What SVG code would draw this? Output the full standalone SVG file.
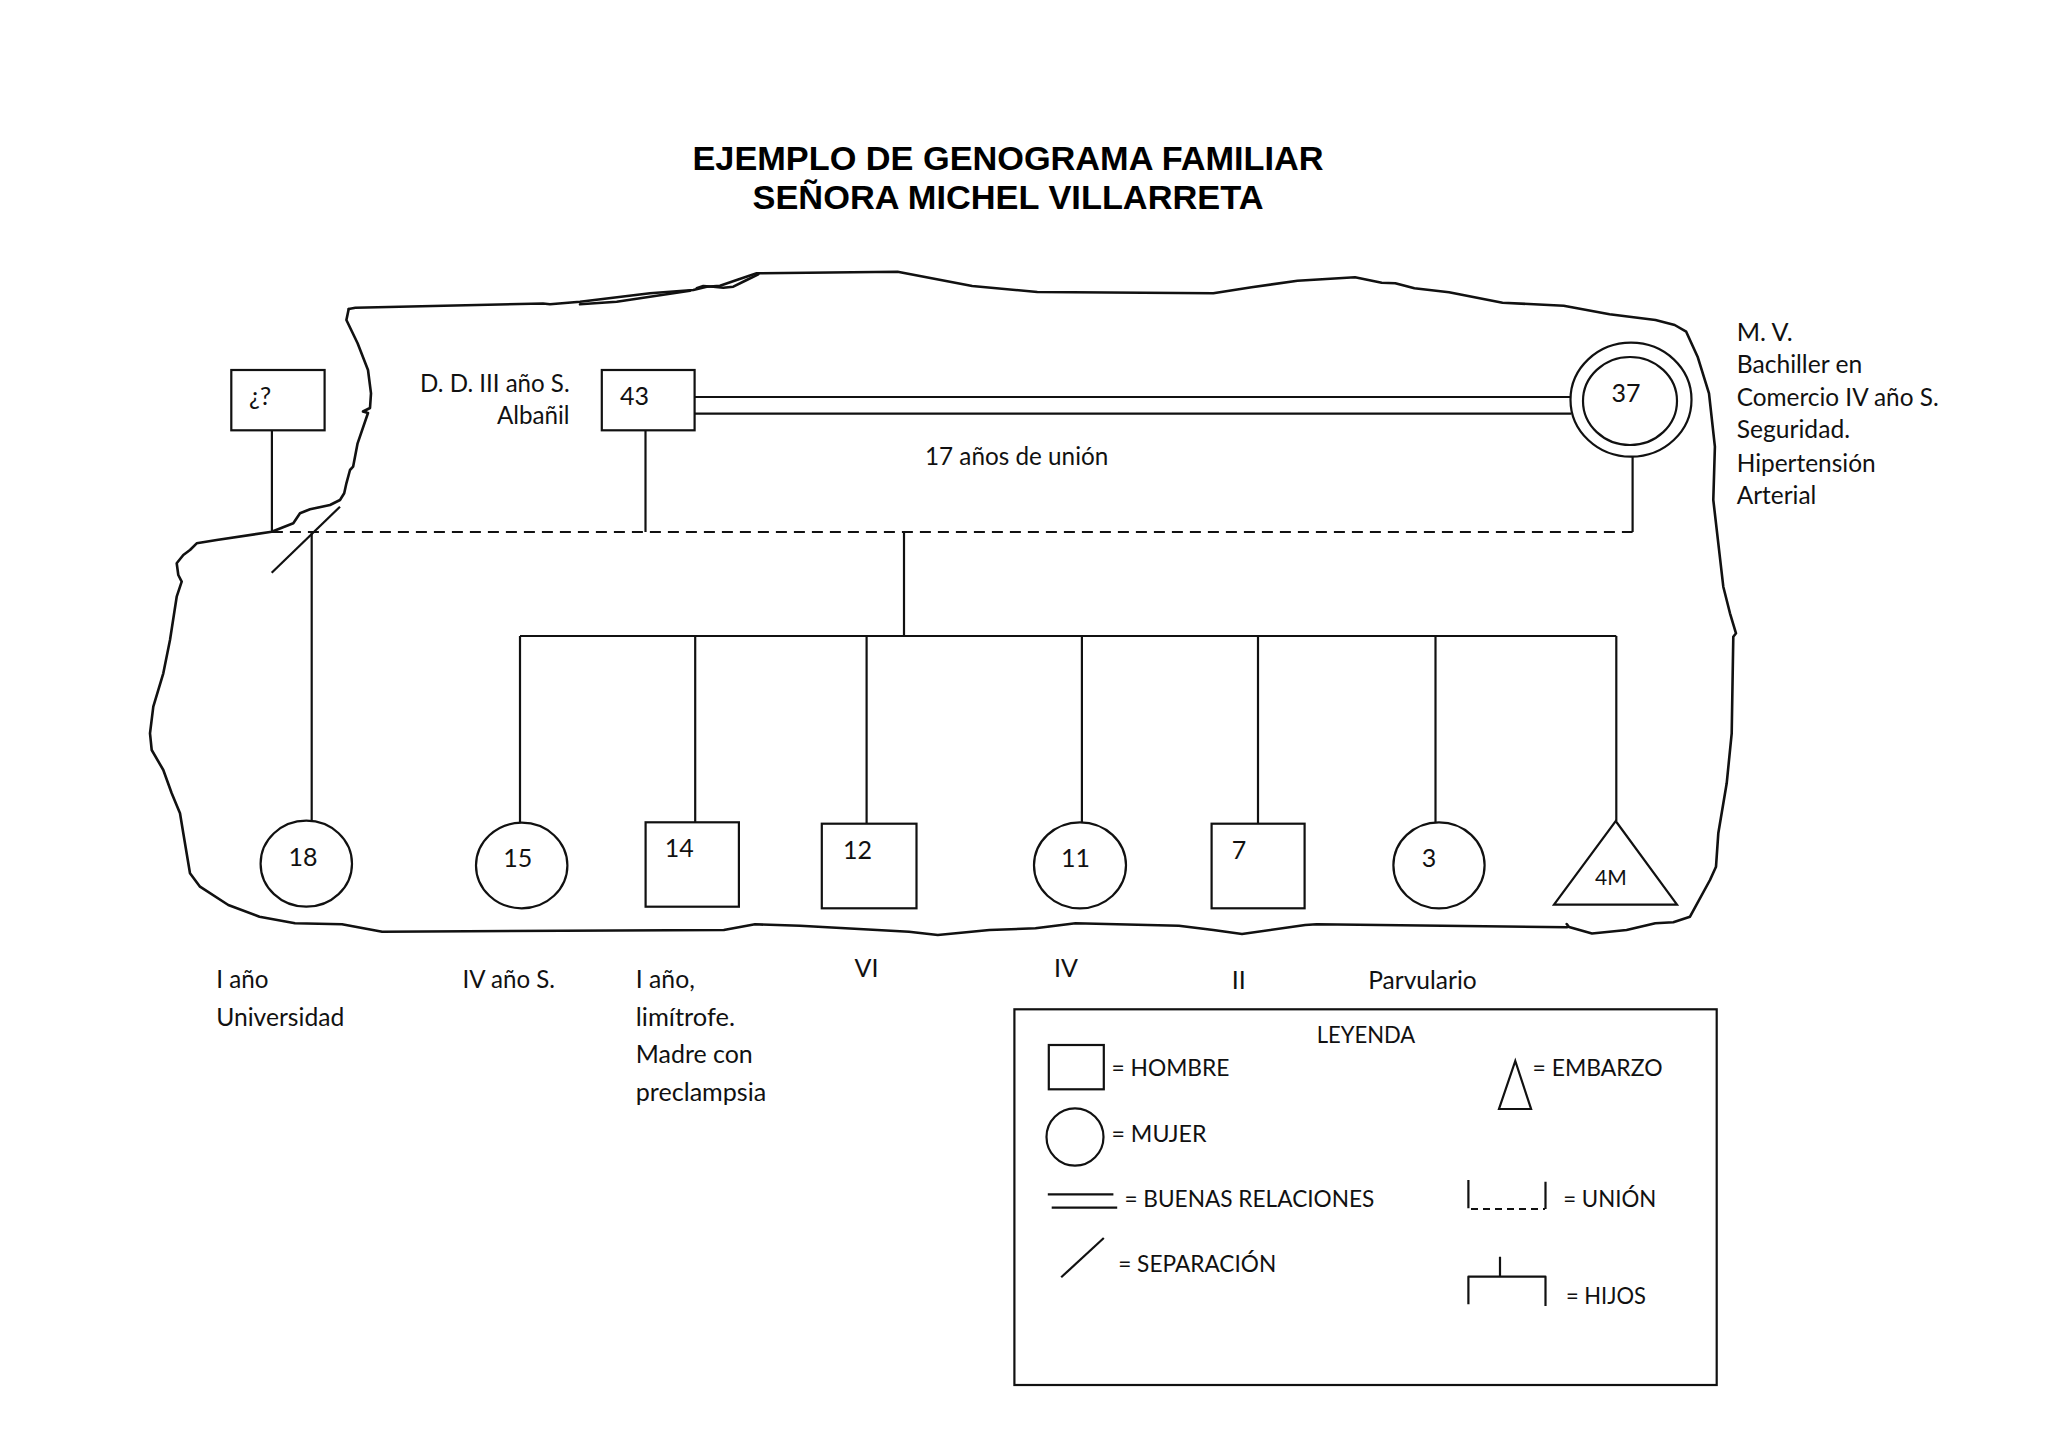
<svg xmlns="http://www.w3.org/2000/svg" width="2048" height="1448" viewBox="0 0 2048 1448">
<style>
.ln{fill:none;stroke:#111;stroke-width:2.2;stroke-linejoin:round;stroke-linecap:butt}
.sh{fill:#fff;stroke:#111;stroke-width:2.2}
.out{fill:none;stroke:#111;stroke-width:2.6;stroke-linejoin:round;stroke-linecap:round}
.t{font-family:Lato,"Liberation Sans",sans-serif;font-size:25px;fill:#111}
.lg{font-size:23px}
.sm{font-size:21px}
.ttl{font-family:"Liberation Sans",Arial,sans-serif;font-weight:bold;font-size:33px;fill:#000;text-anchor:middle}
.end{text-anchor:end}
</style>
<rect width="2048" height="1448" fill="#fff"/>
<text class="ttl" x="1008" y="170" textLength="631" lengthAdjust="spacingAndGlyphs">EJEMPLO DE GENOGRAMA FAMILIAR</text>
<text class="ttl" x="1008" y="208.5" textLength="511" lengthAdjust="spacingAndGlyphs">SEÑORA MICHEL VILLARRETA</text>

<g id="outline">
<path class="out" d="M348.7,309 L355.4,307.7 L543,303.5 L550,304.3 L580,301.7 L650,293.3 L693.3,290 L706.7,286.7 L720,285.7 L736.7,280 L756.7,273.3 L897.6,271.7 L972.2,286 L1037.3,292 L1213.3,293.3 L1251.6,287.3 L1297.5,280.7 L1355,277.3 L1381.7,282.7 L1395.3,283.3 L1414.4,288.3 L1449,292.3 L1502.5,302.7 L1563.7,305.7 L1609.6,314.3 L1655.5,320 L1674.7,325 L1686.2,331.7 L1697.6,356.7 L1709,393.3 L1714.9,446.7 L1713.3,500 L1723.3,586.7 L1730,613.3 L1736,633.3 L1733.3,636.7 L1731.7,733.3 L1726.7,783.3 L1718.3,833.3 L1716,866.7 L1710,880 L1690,916.7 L1673.3,922.3 L1655.3,923.3 L1626.6,930 L1592,933.5 L1569,927 L1566.7,924"/>
<path class="out" d="M1567,927.3 L1316.6,924.3 L1305.2,925 L1242,934 L1213.3,930 L1178.9,925.7 L1075.5,923.3 L1035.4,928.3 L989.4,930 L937.8,935 L909,931.7 L800,925.7 L755,924.3 L723.8,930 L382.2,931.7 L342,924.3 L295,923.3 L259.5,916.7 L228.3,905 L200,886.7 L190,873.3 L183.3,833.3 L180,813.3 L171.7,793.3 L163.3,770 L151.7,750 L150,733.3 L153.3,706.7 L163.3,673.3 L170,640 L176.7,596.7 L181.7,581.7 L178.3,575 L176.7,563.3 L183.3,555 L190,550 L196.7,543.3 L216.7,540 L271.7,531.7 L293.3,523.3 L300,513.3 L310,509.3 L330,505 L340,500 L344.2,493.3 L346.4,483.3 L350,470 L353.1,466.7 L357.6,443.3 L368,413 L363,411.5 L370,408 L371,393.3 L368,370 L357.6,343.3 L346.4,320 L348.7,309"/>
<path class="out" d="M580,304.3 L616.7,301.7 L690,290.7 M696.7,288.3 L703.3,286 L713.3,286.7 L723.3,287.7 L733.3,286.7 L746.7,280 L758.3,274.3"/>
</g>

<g id="connectors">
<line class="ln" x1="271.9" y1="430.3" x2="271.9" y2="532"/>
<line class="ln" x1="645.5" y1="430.3" x2="645.5" y2="532"/>
<line class="ln" x1="1632.6" y1="456.7" x2="1632.6" y2="532"/>
<line class="ln" x1="271.9" y1="532" x2="1632.6" y2="532" stroke-dasharray="11 7"/>
<line class="ln" x1="694.6" y1="397" x2="1571.4" y2="397"/>
<line class="ln" x1="694.6" y1="413.7" x2="1571.4" y2="413.7"/>
<line class="ln" x1="311.7" y1="532" x2="311.7" y2="820.7"/>
<line class="ln" x1="271.7" y1="572.7" x2="340" y2="506.7"/>
<line class="ln" x1="904" y1="532" x2="904" y2="636"/>
<line class="ln" x1="520" y1="636" x2="1616.3" y2="636"/>
<line class="ln" x1="520" y1="636" x2="520" y2="822.7"/>
<line class="ln" x1="695.2" y1="636" x2="695.2" y2="822.3"/>
<line class="ln" x1="866.6" y1="636" x2="866.6" y2="823.7"/>
<line class="ln" x1="1081.9" y1="636" x2="1081.9" y2="822.3"/>
<line class="ln" x1="1258" y1="636" x2="1258" y2="823.7"/>
<line class="ln" x1="1435.5" y1="636" x2="1435.5" y2="822.3"/>
<line class="ln" x1="1616.3" y1="636" x2="1616.3" y2="821"/>
</g>

<g id="node-unknown"><rect class="sh" x="231.3" y="370" width="93.3" height="60.3"/><text class="t" x="249" y="405">¿?</text></g>
<g id="node-43"><rect class="sh" x="601.8" y="370" width="92.8" height="60.3"/><text class="t" x="620" y="405">43</text>
<text class="t" x="420.1" y="391.7" textLength="149.5" lengthAdjust="spacingAndGlyphs">D. D. III año S.</text><text class="t" x="496.9" y="424.3" textLength="72.7" lengthAdjust="spacingAndGlyphs">Albañil</text></g>
<g id="node-37"><ellipse class="sh" cx="1631" cy="399.7" rx="60.5" ry="57"/><ellipse class="sh" cx="1630" cy="401" rx="47" ry="44"/><text class="t" x="1611.5" y="402">37</text>
<text class="t" x="1736.7" y="341" textLength="55.9" lengthAdjust="spacingAndGlyphs">M. V.</text>
<text class="t" x="1736.7" y="373.3" textLength="125.5" lengthAdjust="spacingAndGlyphs">Bachiller en</text>
<text class="t" x="1736.7" y="406" textLength="202" lengthAdjust="spacingAndGlyphs">Comercio IV año S.</text>
<text class="t" x="1736.7" y="438.3" textLength="113.3" lengthAdjust="spacingAndGlyphs">Seguridad.</text>
<text class="t" x="1736.7" y="471.7" textLength="139" lengthAdjust="spacingAndGlyphs">Hipertensión</text>
<text class="t" x="1736.7" y="504.3" textLength="79.6" lengthAdjust="spacingAndGlyphs">Arterial</text></g>
<text class="t" x="925" y="465" textLength="183.3" lengthAdjust="spacingAndGlyphs">17 años de unión</text>

<g id="node-18"><ellipse class="sh" cx="306.3" cy="863.7" rx="45.7" ry="43"/><text class="t" x="288.5" y="865.7">18</text>
<text class="t" x="216.2" y="988.3" textLength="52.2" lengthAdjust="spacingAndGlyphs">I año</text><text class="t" x="216.2" y="1026" textLength="128.1" lengthAdjust="spacingAndGlyphs">Universidad</text></g>
<g id="node-15"><ellipse class="sh" cx="521.7" cy="865.5" rx="45.7" ry="42.8"/><text class="t" x="503.2" y="867.3">15</text>
<text class="t" x="462.6" y="988.3" textLength="92.4" lengthAdjust="spacingAndGlyphs">IV año S.</text></g>
<g id="node-14"><rect class="sh" x="645.6" y="822.3" width="93.3" height="84.4"/><text class="t" x="664.8" y="857.3">14</text>
<text class="t" x="635.8" y="988.3" textLength="59" lengthAdjust="spacingAndGlyphs">I año,</text>
<text class="t" x="635.8" y="1026" textLength="99.1" lengthAdjust="spacingAndGlyphs">limítrofe.</text>
<text class="t" x="635.8" y="1063.3" textLength="117" lengthAdjust="spacingAndGlyphs">Madre con</text>
<text class="t" x="635.8" y="1100.7" textLength="130.4" lengthAdjust="spacingAndGlyphs">preclampsia</text></g>
<g id="node-12"><rect class="sh" x="821.8" y="823.7" width="94.7" height="84.6"/><text class="t" x="843" y="859">12</text>
<text class="t" x="854.5" y="977">VI</text></g>
<g id="node-11"><ellipse class="sh" cx="1080" cy="865.3" rx="46" ry="43"/><text class="t" x="1061" y="867">11</text>
<text class="t" x="1054" y="977">IV</text></g>
<g id="node-7"><rect class="sh" x="1211.6" y="823.7" width="93" height="84.6"/><text class="t" x="1231.7" y="859">7</text>
<text class="t" x="1231.7" y="989.3">II</text></g>
<g id="node-3"><ellipse class="sh" cx="1439" cy="865.3" rx="45.6" ry="43"/><text class="t" x="1421.7" y="867">3</text>
<text class="t" x="1368.3" y="989.3" textLength="108.4" lengthAdjust="spacingAndGlyphs">Parvulario</text></g>
<g id="node-4M"><polygon class="sh" points="1615.7,821 1677,904.7 1554,904.7"/><text class="t sm" x="1595" y="885" textLength="31.7" lengthAdjust="spacingAndGlyphs">4M</text></g>

<g id="legend">
<rect class="sh" x="1014.4" y="1009.3" width="702.3" height="375.7"/>
<text class="t lg" x="1316.7" y="1043.3" textLength="98.6" lengthAdjust="spacingAndGlyphs">LEYENDA</text>
<rect class="sh" x="1048.8" y="1045" width="55" height="44.3"/>
<text class="t lg" x="1111.5" y="1076" textLength="118" lengthAdjust="spacingAndGlyphs">= HOMBRE</text>
<ellipse class="sh" cx="1075" cy="1137" rx="28.5" ry="28.7"/>
<text class="t lg" x="1111.5" y="1141.7" textLength="95" lengthAdjust="spacingAndGlyphs">= MUJER</text>
<line class="ln" x1="1047.8" y1="1194.3" x2="1113.4" y2="1194.3"/>
<line class="ln" x1="1051.7" y1="1207.7" x2="1117.2" y2="1207.7"/>
<text class="t lg" x="1124.4" y="1206.7" textLength="250" lengthAdjust="spacingAndGlyphs">= BUENAS RELACIONES</text>
<line class="ln" x1="1061.2" y1="1277.3" x2="1103.8" y2="1238"/>
<text class="t lg" x="1118.2" y="1271.7" textLength="158" lengthAdjust="spacingAndGlyphs">= SEPARACIÓN</text>
<polygon class="sh" points="1515.3,1061 1531.1,1109 1499,1109"/>
<text class="t lg" x="1532.5" y="1076" textLength="130" lengthAdjust="spacingAndGlyphs">= EMBARZO</text>
<path class="ln" d="M1468.4,1180 L1468.4,1208.3 M1545.5,1181.7 L1545.5,1209"/>
<line class="ln" x1="1471" y1="1209" x2="1545" y2="1209" stroke-dasharray="7 5"/>
<text class="t lg" x="1563.2" y="1206.7" textLength="93" lengthAdjust="spacingAndGlyphs">= UNIÓN</text>
<path class="ln" d="M1500,1256.7 L1500,1276.7 M1468.4,1304.3 L1468.4,1276.7 L1545.5,1276.7 L1545.5,1306"/>
<text class="t lg" x="1566" y="1304" textLength="80" lengthAdjust="spacingAndGlyphs">= HIJOS</text>
</g>
</svg>
